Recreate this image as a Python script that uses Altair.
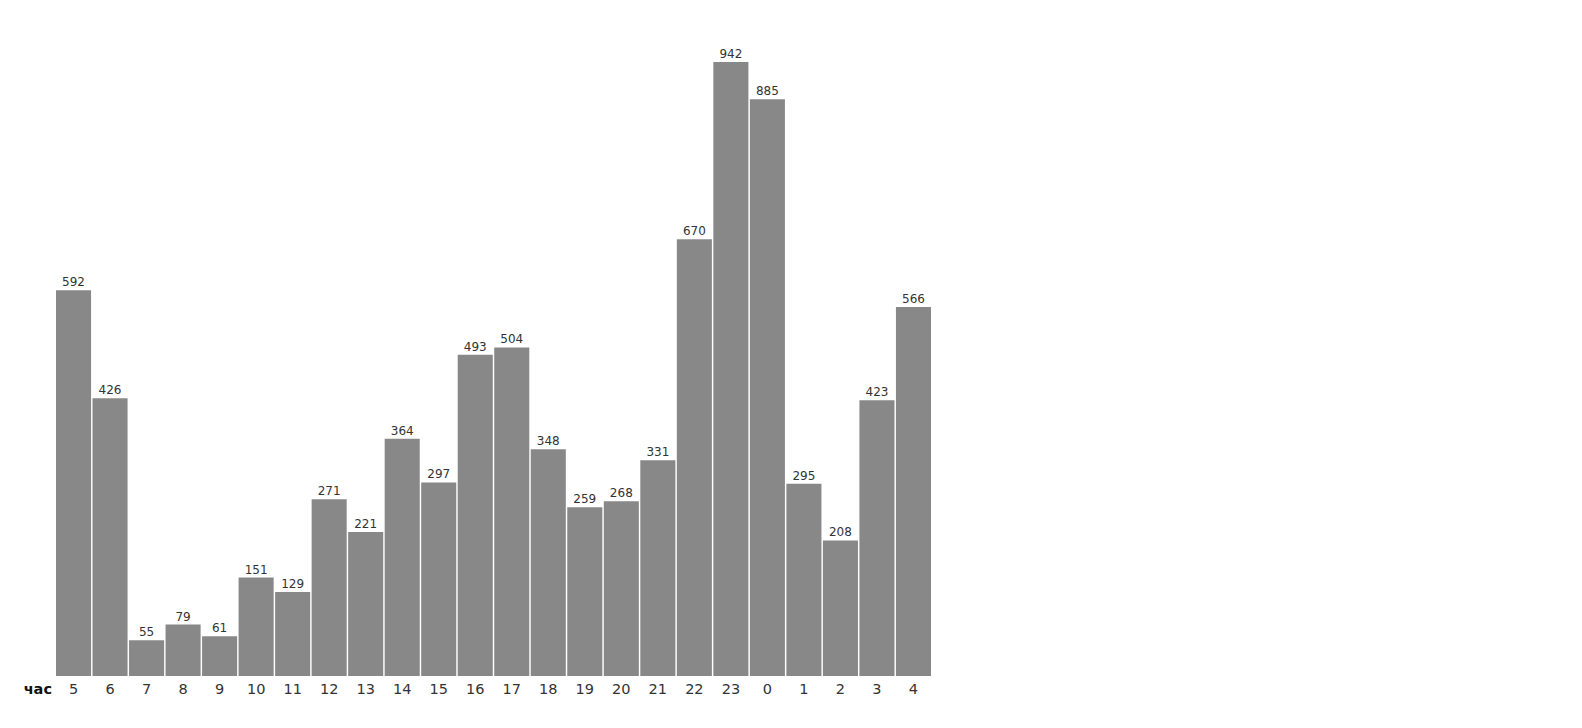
import altair as alt
import pandas as pd

hours = ["5", "6", "7", "8", "9", "10", "11", "12", "13", "14", "15", "16", "17", "18",
         "19", "20", "21", "22", "23", "0", "1", "2", "3", "4"]
counts = [592, 426, 55, 79, 61, 151, 129, 271, 221, 364, 297, 493, 504, 348,
          259, 268, 331, 670, 942, 885, 295, 208, 423, 566]

df = pd.DataFrame({"hour": hours, "count": counts})

W, H = 875, 614
FONT = "DejaVu Sans"

x = alt.X("hour:N", sort=hours, title=None,
          scale=alt.Scale(paddingInner=0.04, paddingOuter=0),
          axis=alt.Axis(domain=False, ticks=False, labelAngle=0, labelPadding=6,
                        labelFontSize=14.5, labelColor="#333333", labelFont=FONT))
y = alt.Y("count:Q", title=None, scale=alt.Scale(domain=[0, 942], nice=False),
          axis=None)

bars = alt.Chart(df).mark_bar(color="#888888").encode(x=x, y=y)
labels = alt.Chart(df).mark_text(baseline="bottom", dy=-1, fontSize=12, color="#333333",
                                 font=FONT).encode(x=x, y=y, text="count:Q")
unit = alt.Chart(pd.DataFrame({"t": ["час"]})).mark_text(
    align="right", baseline="middle", fontSize=14.5, fontWeight="bold", color="#111111",
    font=FONT).encode(x=alt.value(-4), y=alt.value(H + 14), text="t:N")

chart = alt.layer(bars, labels, unit).properties(
    width=W, height=H, autosize="none",
    padding={"left": 48, "top": 54, "right": 640, "bottom": 40}
).configure_view(stroke=None)

chart.save("out.html", embed_options={"renderer": "svg", "actions": False})
